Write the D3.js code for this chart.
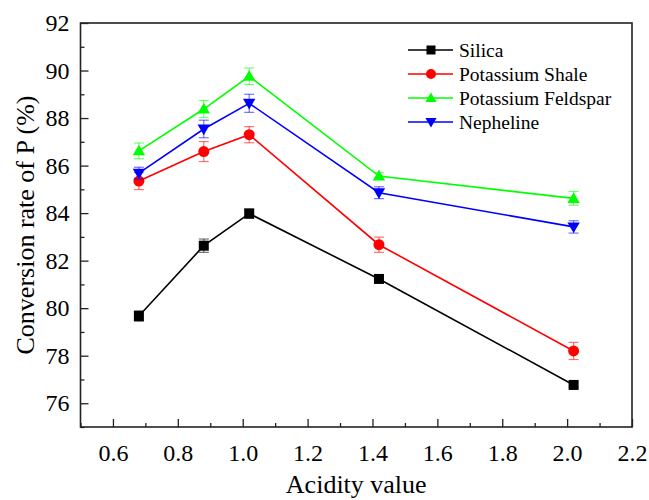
<!DOCTYPE html>
<html>
<head>
<meta charset="utf-8">
<script src="https://cdn.jsdelivr.net/npm/d3@7"></script>
<style>
  body { margin: 0; background: #fff; }
  text { font-family: "Liberation Serif", "Times New Roman", "DejaVu Serif", serif; fill: #000; }
</style>
</head>
<body>
<div id="chart"></div>
<script>
// Acidity values (x)
var acidity = [0.68, 0.88, 1.02, 1.42, 2.02];

// Conversion rate of P (%) and error bars per series
var silica = [79.67, 82.63, 83.98, 81.23, 76.77];
var silicaErr = [0.22, 0.28, 0.2, 0.15, 0.1];
var shale = [85.35, 86.59, 87.3, 82.67, 78.2];
var shaleErr = [0.36, 0.42, 0.34, 0.32, 0.36];
var feldspar = [86.62, 88.38, 89.76, 85.56, 84.62];
var feldsparErr = [0.33, 0.36, 0.35, 0.15, 0.29];
var nepheline = [85.68, 87.54, 88.62, 84.86, 83.42];
var nephelineErr = [0.25, 0.37, 0.38, 0.25, 0.26];

var seriesNames = ["Silica", "Potassium Shale", "Potassium Feldspar", "Nepheline"];
var seriesColors = ["#000000", "#ff0000", "#00ff00", "#0000ff"];
var seriesShapes = ["square", "circle", "triangle", "triangleDown"];

var xTicks = [0.6, 0.8, 1.0, 1.2, 1.4, 1.6, 1.8, 2.0, 2.2];
var yTicks = [76, 78, 80, 82, 84, 86, 88, 90, 92];

var series = [
	{name: seriesNames[0], values: silica, err: silicaErr},
	{name: seriesNames[1], values: shale, err: shaleErr},
	{name: seriesNames[2], values: feldspar, err: feldsparErr},
	{name: seriesNames[3], values: nepheline, err: nephelineErr}
];
series.forEach(function(s, i) {
	s.color = seriesColors[i];
	s.shape = seriesShapes[i];
	s.points = acidity.map(function(a, j) {
		return {x: a, y: s.values[j], e: s.err[j]};
	});
});

var W = 649, H = 500;
var margin = {top: 23, right: 17, bottom: 73, left: 80.5},
	width = W - margin.left - margin.right,
	height = H - margin.top - margin.bottom;

var svg = d3.select("#chart")
	.append("svg")
	.attr("width", W)
	.attr("height", H);

var g = svg.append("g")
	.attr("transform", "translate(" + margin.left + "," + margin.top + ")");

var x = d3.scaleLinear().domain([0.5, 2.2]).range([0, width]);
var y = d3.scaleLinear().domain([75, 92]).range([height, 0]);

// frame
g.append("rect")
	.attr("width", width)
	.attr("height", height)
	.attr("fill", "none")
	.attr("stroke", "#222")
	.attr("stroke-width", 1.6);

// minor ticks
var xMinor = d3.range(0.5, 2.25, 0.1).filter(function(v) {
	return Math.abs(Math.round(v * 5) - v * 5) > 0.01;
});
g.append("g")
	.attr("transform", "translate(0," + height + ")")
	.call(d3.axisBottom(x).tickValues(xMinor).tickSize(-4).tickFormat(""))
	.call(function(a) { a.select(".domain").remove(); })
	.selectAll("line").attr("stroke", "#222").attr("stroke-width", 1.3);

var yMinor = d3.range(75, 92, 2);
g.append("g")
	.call(d3.axisLeft(y).tickValues(yMinor).tickSize(-4).tickFormat(""))
	.call(function(a) { a.select(".domain").remove(); })
	.selectAll("line").attr("stroke", "#222").attr("stroke-width", 1.3);

// major ticks
var xAxis = g.append("g")
	.attr("transform", "translate(0," + height + ")")
	.call(d3.axisBottom(x).tickValues(xTicks).tickSize(-8).tickPadding(17).tickFormat(d3.format(".1f")));
xAxis.select(".domain").remove();
xAxis.selectAll("line").attr("stroke", "#222").attr("stroke-width", 1.3);
xAxis.selectAll("text")
	.attr("font-size", 24)
	.attr("fill", "#000");

var yAxis = g.append("g")
	.call(d3.axisLeft(y).tickValues(yTicks).tickSize(-8).tickPadding(11).tickFormat(d3.format("d")));
yAxis.select(".domain").remove();
yAxis.selectAll("line").attr("stroke", "#222").attr("stroke-width", 1.3);
yAxis.selectAll("text")
	.attr("font-size", 24)
	.attr("fill", "#000");

// axis titles
svg.append("text")
	.attr("x", margin.left + x(1.35))
	.attr("y", 493)
	.attr("text-anchor", "middle")
	.attr("font-size", 26)
	.text("Acidity value");

svg.append("text")
	.attr("transform", "translate(34," + (margin.top + y(83.5)) + ") rotate(-90)")
	.attr("text-anchor", "middle")
	.attr("font-size", 26)
	.text("Conversion rate of P (%)");

// marker drawing
function marker(sel, shape, color, size) {
	var s = size;
	if (shape === "square") {
		sel.append("rect")
			.attr("x", -s / 2).attr("y", -s / 2)
			.attr("width", s).attr("height", s)
			.attr("fill", color);
	} else if (shape === "circle") {
		sel.append("circle").attr("r", s / 2 + 0.5).attr("fill", color);
	} else if (shape === "triangle") {
		sel.append("path")
			.attr("d", "M0," + (-s * 0.62) + "L" + (s * 0.62) + "," + (s * 0.45) + "L" + (-s * 0.62) + "," + (s * 0.45) + "Z")
			.attr("fill", color);
	} else {
		sel.append("path")
			.attr("d", "M0," + (s * 0.62) + "L" + (s * 0.62) + "," + (-s * 0.45) + "L" + (-s * 0.62) + "," + (-s * 0.45) + "Z")
			.attr("fill", color);
	}
}

var line = d3.line()
	.x(function(d) { return x(d.x); })
	.y(function(d) { return y(d.y); });

series.forEach(function(s) {
	g.append("path")
		.datum(s.points)
		.attr("fill", "none")
		.attr("stroke", s.color)
		.attr("stroke-width", 1.6)
		.attr("d", line);

	// error bars
	var eb = g.append("g")
		.attr("stroke", s.color)
		.attr("stroke-opacity", 0.55)
		.attr("stroke-width", 1.2);
	s.points.forEach(function(p) {
		eb.append("line")
			.attr("x1", x(p.x)).attr("x2", x(p.x))
			.attr("y1", y(p.y - p.e)).attr("y2", y(p.y + p.e));
		[p.y - p.e, p.y + p.e].forEach(function(v) {
			eb.append("line")
				.attr("x1", x(p.x) - 5).attr("x2", x(p.x) + 5)
				.attr("y1", y(v)).attr("y2", y(v));
		});
	});

	g.selectAll(null)
		.data(s.points)
		.enter()
		.append("g")
		.attr("transform", function(d) { return "translate(" + x(d.x) + "," + y(d.y) + ")"; })
		.each(function() { marker(d3.select(this), s.shape, s.color, 10); });
});

// legend
var legend = svg.append("g").attr("transform", "translate(408,50)");
series.forEach(function(s, i) {
	var row = legend.append("g").attr("transform", "translate(0," + (i * 24) + ")");
	row.append("line")
		.attr("x1", 0).attr("x2", 45)
		.attr("stroke", s.color)
		.attr("stroke-width", 1.6);
	var m = row.append("g").attr("transform", "translate(23,0)");
	marker(m, s.shape, s.color, 9);
	row.append("text")
		.attr("x", 51)
		.attr("y", 7)
		.attr("font-size", 19.5)
		.text(s.name);
});
</script>
</body>
</html>
